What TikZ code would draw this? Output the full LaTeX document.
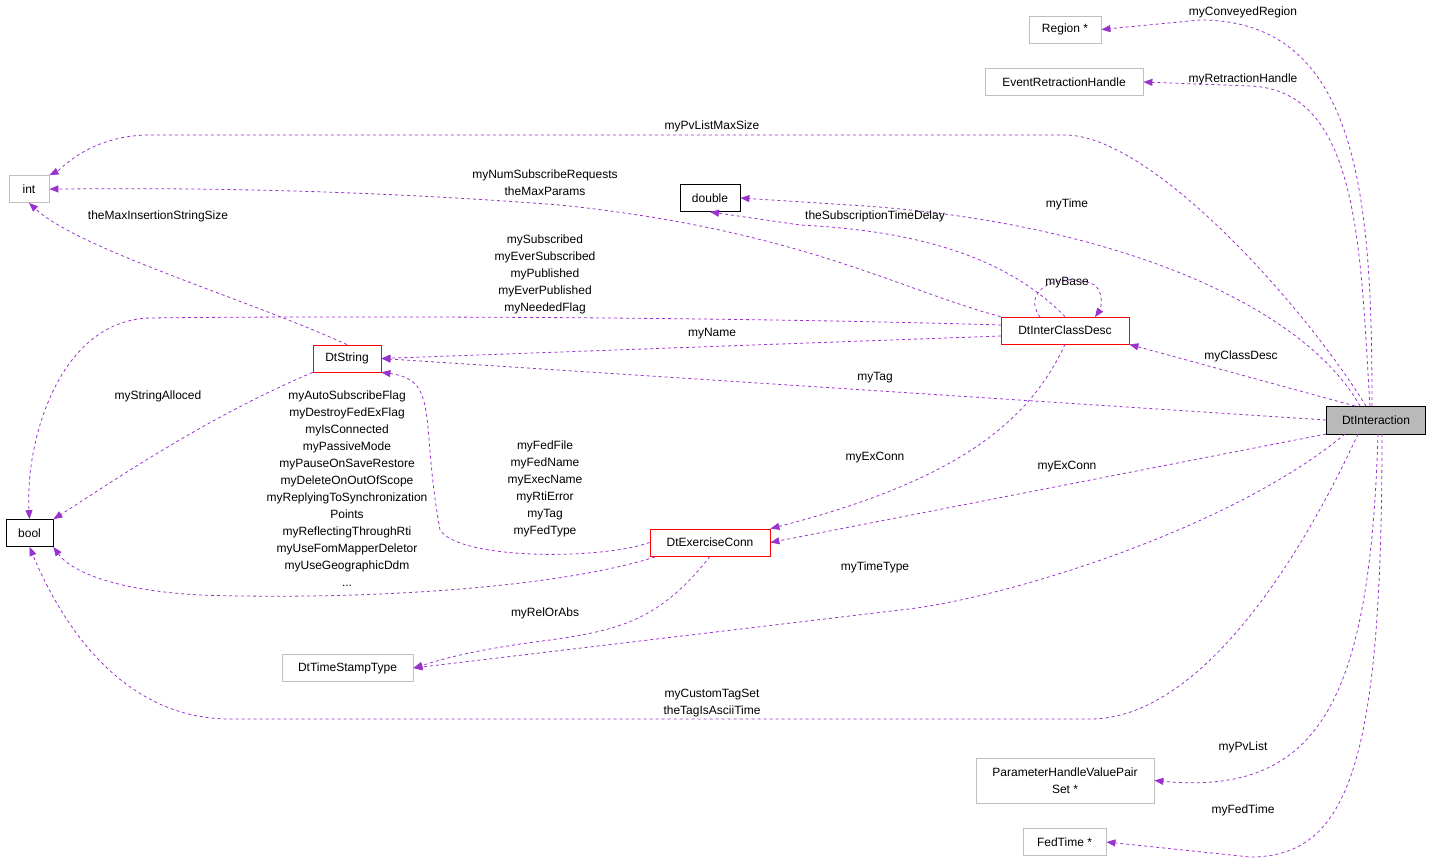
\documentclass[tikz,border=0pt]{standalone}
\usepackage{fontspec}
\setmainfont{Liberation Sans}
\usetikzlibrary{arrows.meta}
\begin{document}
\begin{tikzpicture}[x=1pt,y=-1pt,font=\fontsize{12}{17}\selectfont,
 box/.style={draw=#1,fill=white,inner sep=0pt,minimum height=27pt,line width=0.8pt},
 e/.style={draw=violet!70!purple,dashed,line width=0.8pt,-{Triangle[length=9pt,width=7pt]},color={rgb,255:red,154;green,50;blue,205}},
 lab/.style={align=center,inner sep=0pt}]
\useasboundingbox (0,0) rectangle (1432,865);
\node[box=gray!50,minimum width=72pt] (region) at (1065,29.5) {Region *};
\node[box=gray!50,minimum width=158pt] (erh) at (1064,82) {EventRetractionHandle};
\node[box=gray!50,minimum width=40pt] (int) at (29,189) {int};
\node[box=black,minimum width=60pt] (double) at (710,198) {double};
\node[box=red,minimum width=128pt] (icd) at (1065,330.5) {DtInterClassDesc};
\node[box=red,minimum width=68pt] (str) at (347,358.5) {DtString};
\node[box=black,minimum width=47pt] (bool) at (29.5,533) {bool};
\node[draw=black,fill=gray!55,minimum width=99pt,minimum height=28pt,inner sep=0pt,line width=0.8pt] (dti) at (1376,420) {DtInteraction};
\node[box=red,minimum width=120pt] (ec) at (710,542.5) {DtExerciseConn};
\node[box=gray!50,minimum width=131pt] (ts) at (347.5,668) {DtTimeStampType};
\node[box=gray!50,minimum width=178pt,minimum height=45pt,align=center] (phv) at (1065,780.5) {ParameterHandleValuePair\\Set *};
\node[box=gray!50,minimum width=83pt] (ft) at (1064.5,842) {FedTime *};
\coordinate (dtiT) at (1372,406);
% from DtInteraction
\draw[e] (dtiT) .. controls (1372,200) and (1360,20) .. (1200,20) -- (region.east);
\draw[e] (1370,406) .. controls (1360,250) and (1360,90) .. (1250,86) -- (erh.east);
\draw[e] (1366,406) .. controls (1300,300) and (1150,135) .. (1065,135) -- (150,135) .. controls (90,135) and (60,170) .. (int.north east);
\draw[e] (1360,406) .. controls (1300,300) and (1100,220) .. (850,205) -- (double.east);
\draw[e] (1355,406) -- (icd.south east);
\draw[e] (dti.west) -- (str.east);
\draw[e] (dti.west|-0,434) -- (ec.east);
\draw[e] (1345,434) .. controls (1230,530) and (1000,600) .. (900,610) -- (ts.east);
\draw[e] (1358,434) .. controls (1300,560) and (1200,719) .. (1090,719) -- (230,719) .. controls (120,719) and (60,620) .. (bool.south);
\draw[e] (1378,434) .. controls (1370,700) and (1320,796) .. (phv.east);
\draw[e] (1382,434) .. controls (1382,760) and (1350,857) .. (1250,857) -- (ft.east);
% from DtInterClassDesc
\draw[e] (icd.north west) .. controls (900,290) and (800,230) .. (560,205) .. controls (300,185) and (100,189) .. (int.east);
\draw[e] (icd.north) .. controls (1000,250) and (900,230) .. (800,225) -- (double.south);
\draw[e] (1040,317) .. controls (1020,290) and (1060,270) .. (1095,285) .. controls (1105,295) and (1100,310) .. (1095,317);
\draw[e] (1001,325) .. controls (700,316) and (300,316) .. (150,318) .. controls (60,320) and (25,440) .. (bool.north);
\draw[e] (1001,336) -- (str.east);
\draw[e] (icd.south) .. controls (1030,420) and (960,480) .. (ec.north east);
% from DtString
\draw[e] (str.north) .. controls (250,300) and (80,250) .. (int.south);
\draw[e] (str.south west) .. controls (200,420) and (100,490) .. (bool.north east);
% from DtExerciseConn
\draw[e] (ec.west) .. controls (600,560) and (460,560) .. (440,530) .. controls (420,420) and (440,380) .. (str.south east);
\draw[e] (655,557) .. controls (550,590) and (350,600) .. (200,595) .. controls (110,590) and (70,570) .. (bool.south east);
\draw[e] (ec.south) .. controls (660,620) and (620,630) .. (550,640) .. controls (470,650) and (440,660) .. (ts.east);
% labels
\node[lab] at (1243,12) {myConveyedRegion};
\node[lab] at (1243,79) {myRetractionHandle};
\node[lab] at (712,126) {myPvListMaxSize};
\node[lab] at (1067,204) {myTime};
\node[lab] at (1241,356) {myClassDesc};
\node[lab] at (875,378) {myTag};
\node[lab] at (1067,467) {myExConn};
\node[lab] at (875,567) {myTimeType};
\node[lab] at (712,703) {myCustomTagSet\\theTagIsAsciiTime};
\node[lab] at (1243,747) {myPvList};
\node[lab] at (1243,810) {myFedTime};
\node[lab] at (545,183) {myNumSubscribeRequests\\theMaxParams};
\node[lab] at (875,216) {theSubscriptionTimeDelay};
\node[lab] at (1067,283) {myBase};
\node[lab] at (545,274) {mySubscribed\\myEverSubscribed\\myPublished\\myEverPublished\\myNeededFlag};
\node[lab] at (712,334) {myName};
\node[lab] at (875,458) {myExConn};
\node[lab] at (158,216) {theMaxInsertionStringSize};
\node[lab] at (158,396) {myStringAlloced};
\node[lab] at (545,489) {myFedFile\\myFedName\\myExecName\\myRtiError\\myTag\\myFedType};
\node[lab] at (347,489) {myAutoSubscribeFlag\\myDestroyFedExFlag\\myIsConnected\\myPassiveMode\\myPauseOnSaveRestore\\myDeleteOnOutOfScope\\myReplyingToSynchronization\\Points\\myReflectingThroughRti\\myUseFomMapperDeletor\\myUseGeographicDdm\\...};
\node[lab] at (545,613) {myRelOrAbs};
\end{tikzpicture}
\end{document}
